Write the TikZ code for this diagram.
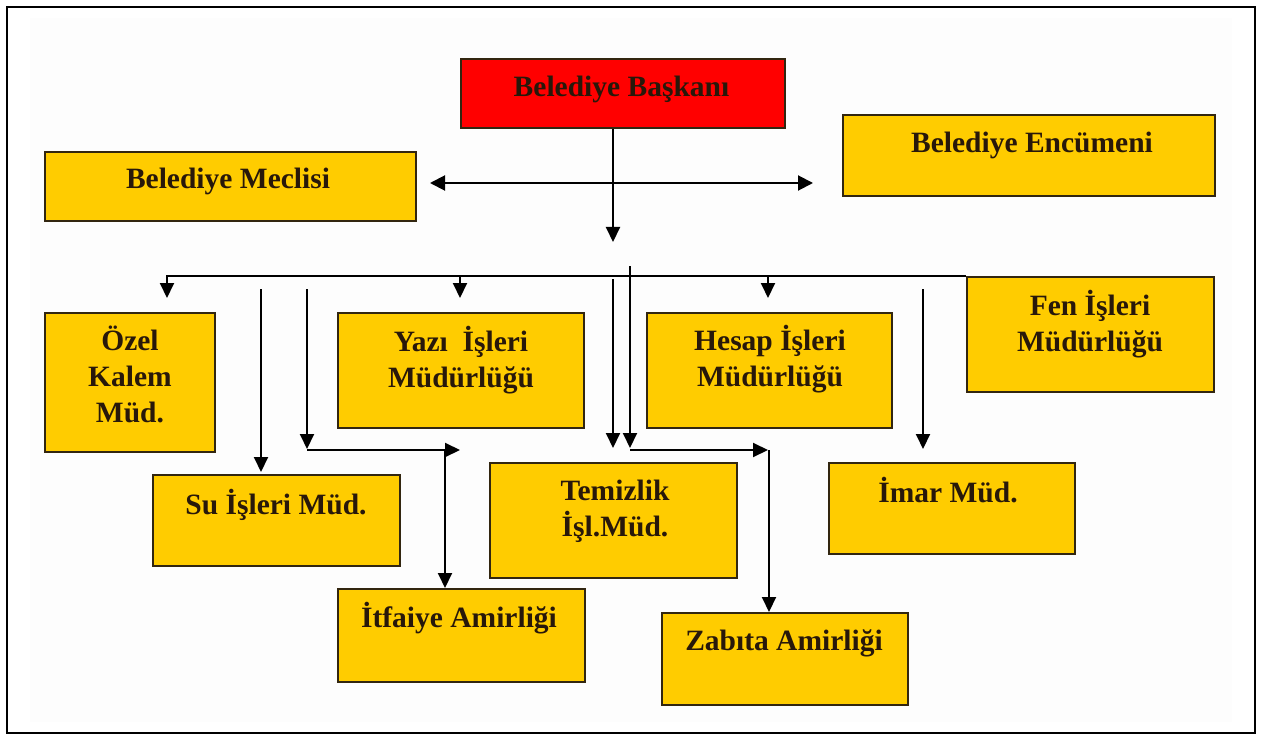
\documentclass[tikz,border=0pt]{standalone}
\usepackage{fontspec}
\setmainfont{Liberation Serif}
\usetikzlibrary{arrows.meta}
\definecolor{boxyellow}{RGB}{255,204,0}
\definecolor{boxred}{RGB}{255,0,0}
\definecolor{boxline}{RGB}{50,38,16}
\definecolor{txtc}{RGB}{40,24,10}
\begin{document}
\begin{tikzpicture}[x=1pt,y=-1pt,
  box/.style={draw=boxline, line width=2pt, fill=boxyellow, inner sep=0pt, anchor=center},
  redbox/.style={box, fill=boxred},
  txt/.style={anchor=base, inner sep=0pt, text=txtc, font=\fontsize{29.5}{36}\selectfont\bfseries},
  arr/.style={line width=2pt, draw=black, -{Triangle[length=15pt,width=14pt]}},
  darr/.style={line width=2pt, draw=black, {Triangle[length=15pt,width=15pt]}-{Triangle[length=15pt,width=15pt]}},
  ln/.style={line width=2pt, draw=black}]
\useasboundingbox (0,0) rectangle (1261,738);
\fill[white] (0,0) rectangle (1261,738);
\fill[gray!1.5] (30,18) rectangle (1232,722);
\draw[line width=2pt, black] (7,7) rectangle (1255,733);

% boxes
\node[redbox, minimum width=324pt, minimum height=69pt] (baskan) at (623,93.5) {};
\node[box, minimum width=371pt, minimum height=69pt] (meclis) at (230.5,186.5) {};
\node[box, minimum width=372pt, minimum height=81pt] (encumen) at (1029,155.5) {};
\node[box, minimum width=170pt, minimum height=139pt] (ozel) at (130,382.5) {};
\node[box, minimum width=246pt, minimum height=115pt] (yazi) at (461,370.5) {};
\node[box, minimum width=245pt, minimum height=115pt] (hesap) at (769.5,370.5) {};
\node[box, minimum width=247pt, minimum height=115pt] (fen) at (1090.5,334.5) {};
\node[box, minimum width=247pt, minimum height=91pt] (su) at (276.5,520.5) {};
\node[box, minimum width=247pt, minimum height=115pt] (temiz) at (613.5,520.5) {};
\node[box, minimum width=246pt, minimum height=91pt] (imar) at (952,508.5) {};
\node[box, minimum width=247pt, minimum height=93pt] (itf) at (461.5,635.5) {};
\node[box, minimum width=246pt, minimum height=92pt] (zab) at (785,659) {};

% texts
\node[txt] (baskan-t) at (621.5,97) {Belediye Başkanı};
\node[txt] (meclis-t) at (228,189) {Belediye Meclisi};
\node[txt] (encumen-t) at (1032,153) {Belediye Encümeni};
\node[txt] (ozel-t) at (130,350) {\begin{tabular}[t]{@{}c@{}}Özel\\Kalem\\Müd.\end{tabular}};
\node[txt] (yazi-t) at (461,351) {\begin{tabular}[t]{@{}c@{}}Yazı~~İşleri\\Müdürlüğü\end{tabular}};
\node[txt] (hesap-t) at (770,350) {\begin{tabular}[t]{@{}c@{}}Hesap İşleri\\Müdürlüğü\end{tabular}};
\node[txt] (fen-t) at (1090,315) {\begin{tabular}[t]{@{}c@{}}Fen İşleri\\Müdürlüğü\end{tabular}};
\node[txt] (su-t) at (276,514) {Su İşleri Müd.};
\node[txt] (temiz-t) at (615,500) {\begin{tabular}[t]{@{}c@{}}Temizlik\\İşl.Müd.\end{tabular}};
\node[txt] (imar-t) at (948,502) {İmar Müd.};
\node[txt] (itf-t) at (459,627) {İtfaiye Amirliği};
\node[txt] (zab-t) at (784,650) {Zabıta Amirliği};

% free-end coordinates
\coordinate (c-down) at (613,242);
\coordinate (h-l) at (430,183);
\coordinate (h-r) at (813,183);
\coordinate (ozel-tip) at (167,298);
\coordinate (yazi-top) at (460,276);
\coordinate (yazi-tip) at (460,298);
\coordinate (hesap-top) at (768,276);
\coordinate (hesap-tip) at (768,298);
\coordinate (a1s) at (261,289);
\coordinate (a1e) at (261,472);
\coordinate (a2s) at (307,289);
\coordinate (a2e) at (307,449);
\coordinate (a2c) at (307,450);
\coordinate (a2r) at (460,450);
\coordinate (a2j) at (445,450);
\coordinate (a3s) at (613,279);
\coordinate (a3e) at (613,448);
\coordinate (a4s) at (630,266);
\coordinate (a4e) at (630,448);
\coordinate (a4c) at (630,450);
\coordinate (a4r) at (768,450);
\coordinate (a4j) at (769,450);
\coordinate (a5s) at (923,289);
\coordinate (a5e) at (923,449);

% connectors
\draw[arr] (baskan.south -| c-down) -- (c-down);
\draw[darr] (h-l) -- (h-r);
\draw[arr] (fen.north west) -| (ozel-tip);
\draw[arr] (yazi-top) -- (yazi-tip);
\draw[arr] (hesap-top) -- (hesap-tip);
\draw[arr] (a1s) -- (a1e);
\draw[arr] (a2s) -- (a2e);
\draw[arr] (a2c) -- (a2r);
\draw[arr] (a2j) -- (a2j |- itf.north);
\draw[arr] (a3s) -- (a3e);
\draw[arr] (a4s) -- (a4e);
\draw[arr] (a4c) -- (a4r);
\draw[arr] (a4j) -- (a4j |- zab.north);
\draw[arr] (a5s) -- (a5e);
\end{tikzpicture}
\end{document}
